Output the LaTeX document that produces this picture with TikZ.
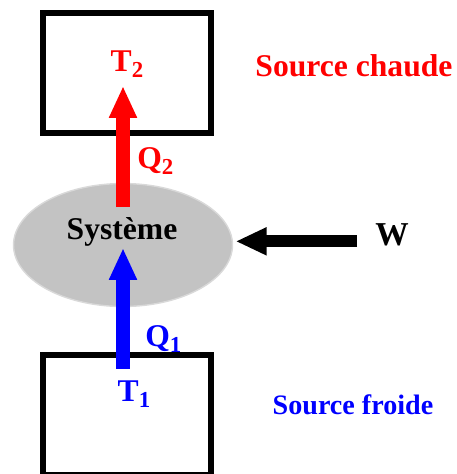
\documentclass[tikz,border=0pt]{standalone}
\usepackage{fontspec}
\setmainfont{Liberation Serif}
\usepackage{tikz}
\usetikzlibrary{arrows.meta,shapes.geometric}
\newcommand{\indice}[1]{\raisebox{-0.22em}{\fontsize{13}{13}\selectfont #1}}
\tikzset{
  reservoir/.style={draw, line width=0.11cm, minimum width=3.36cm, minimum height=2.4cm, inner sep=0pt},
  systeme/.style={draw=gray!30, ellipse, line width=0.8pt, fill=gray!47, minimum width=4.38cm, minimum height=2.46cm},
  lbl/.style={inner sep=0pt, font=\bfseries\fontsize{18}{20}\selectfont},
  lblsmall/.style={inner sep=0pt, font=\bfseries\fontsize{16}{18}\selectfont},
  heat/.style={-{Triangle[length=0.64cm, width=0.52cm]}, line width=0.28cm},
  work/.style={-{Triangle[length=0.62cm, width=0.52cm]}, line width=0.24cm}
}
\begin{document}
\begin{tikzpicture}[x=0.02cm,y=-0.02cm]
  \useasboundingbox (0,0) rectangle (457,474);
  % reservoirs
  \node[reservoir] (hot) at (127,73) {};
  \node[reservoir] (cold) at (127,415) {};
  % systeme
  \node[systeme] (sys) at (123,245) {};
  \node[lbl] (systxt) at (122,232) {Système};
  % labels
  \node[lbl, red, anchor=base] (t2) at (127,71) {T\indice{2}};
  \node[lbl, blue, anchor=base] (t1) at (134,401) {T\indice{1}};
  \node[lbl, red, anchor=base west] (q2) at (137,168) {Q\indice{2}};
  \node[lbl, blue, anchor=base west] (q1) at (145,346) {Q\indice{1}};
  \node[lbl, anchor=base west, font=\bfseries\fontsize{19}{20}\selectfont] (w) at (375,245) {W};
  \node[lbl, red, anchor=base] (chaude) at (354,76) {Source chaude};
  \node[lblsmall, blue, anchor=base] (froide) at (353,414) {Source froide};
  % echanges
  \draw[heat, red] ([yshift=0.76cm]sys.center) -- ([yshift=-0.3cm]sys.center |- t2.base);
  \draw[heat, blue] (sys.center |- t1.north) ++(0,-11) coordinate (q1start) -- ([yshift=-0.06cm]sys.center);
  \draw[work] ([xshift=-0.36cm,yshift=-0.14cm]w.west) coordinate (wstart) -- ([xshift=0.05cm]sys.east |- wstart);
\end{tikzpicture}
\end{document}
